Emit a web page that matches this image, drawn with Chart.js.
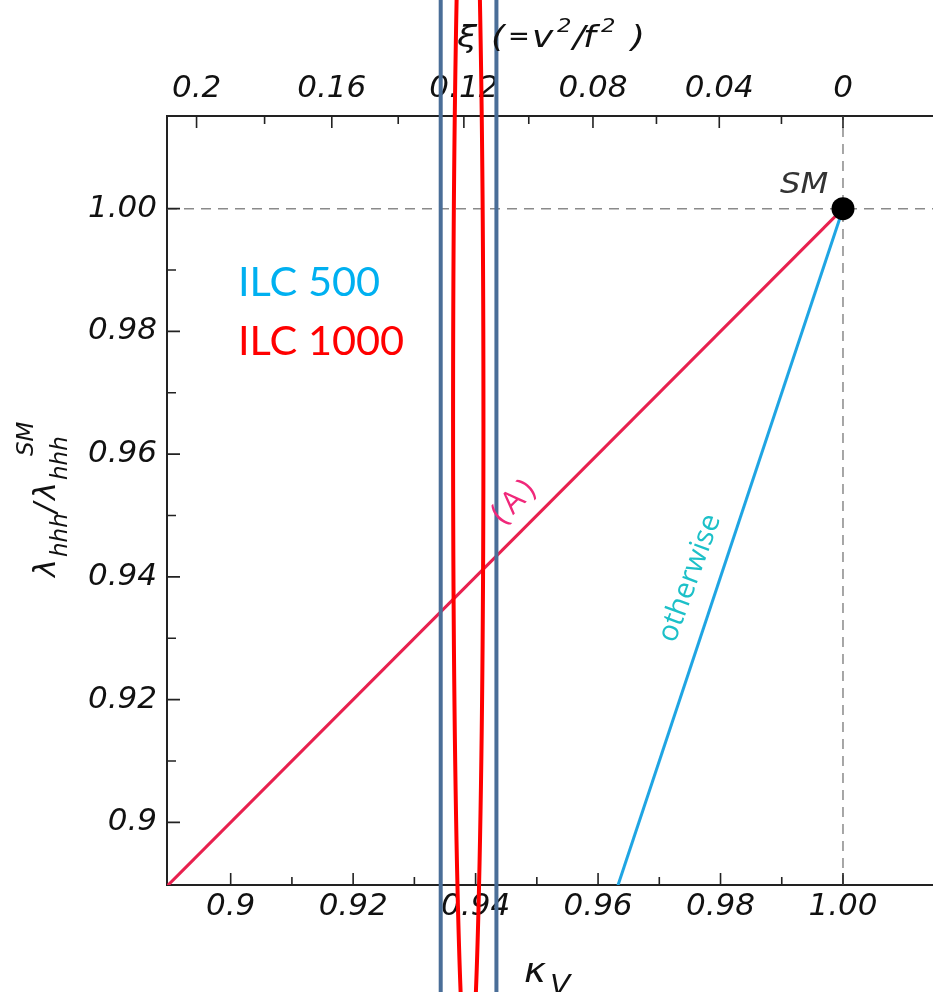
<!DOCTYPE html>
<html>
<head>
<meta charset="utf-8">
<script src="https://cdn.jsdelivr.net/npm/chart.js@4.4.1/dist/chart.umd.min.js"></script>
<style>
  html, body { margin: 0; padding: 0; background: #fff; overflow: hidden; }
  #wrap { position: relative; width: 933px; height: 992px; }
</style>
</head>
<body>
<div id="wrap"><canvas id="chart" width="933" height="992"></canvas></div>
<script>
// ---- Data ----
const kappaRange = [0.8896, 1.0147];
const lambdaRange = [0.8898, 1.0151];

const kappaTicks = [0.90, 0.91, 0.92, 0.93, 0.94, 0.95, 0.96, 0.97, 0.98, 0.99, 1.00];
const kappaLabels = ['0.9', '', '0.92', '', '0.94', '', '0.96', '', '0.98', '', '1.00'];
const lambdaTicks = [0.90, 0.91, 0.92, 0.93, 0.94, 0.95, 0.96, 0.97, 0.98, 0.99, 1.00];
const lambdaLabels = ['0.9', '', '0.92', '', '0.94', '', '0.96', '', '0.98', '', '1.00'];
const xiTicks = [0.20, 0.18, 0.16, 0.14, 0.12, 0.10, 0.08, 0.06, 0.04, 0.02, 0];
const xiLabels = ['0.2', '', '0.16', '', '0.12', '', '0.08', '', '0.04', '', '0'];

// case (A) and "otherwise" lines
const caseAKappa = [0.88, 1.00];
const caseALambda = [0.88, 1.00];
const otherKappa = [0.96, 1.00];
const otherLambda = [0.88, 1.00];
const smKappa = 1.00;
const smLambda = 1.00;

// ILC 500 band (kappa edges) and ILC 1000 ellipse
const ilc500Band = [0.9343, 0.9434];
const ilc500Span = [0.80, 1.10];
const ilc1000Center = [0.9388, 0.9651];
const ilc1000Radius = [0.00248, 0.1073];

const TXT = '#111';
const toPts = (xs, ys) => xs.map((x, i) => ({ x: x, y: ys[i] }));

// text drawn a bit wider, like the original figure's font
function wideText(ctx, s, x, y, font, sx) {
  ctx.save();
  ctx.translate(x, y);
  ctx.scale(sx, 1);
  ctx.font = font;
  ctx.fillText(s, 0, 0);
  ctx.restore();
}

// ---- plugin: inward ticks, ellipse, titles and labels ----
const decorations = {
  id: 'decorations',
  afterDatasetsDraw(chart) {
    const ctx = chart.ctx;
    const xs = chart.scales.x, ys = chart.scales.y;
    // ILC 1000 ellipse
    const cx = xs.getPixelForValue(ilc1000Center[0]);
    const cy = ys.getPixelForValue(ilc1000Center[1]);
    const rx = xs.getPixelForValue(ilc1000Center[0] + ilc1000Radius[0]) - cx;
    const ry = cy - ys.getPixelForValue(ilc1000Center[1] + ilc1000Radius[1]);
    ctx.save();
    ctx.strokeStyle = '#ff0000';
    ctx.lineWidth = 4;
    ctx.beginPath();
    ctx.ellipse(cx, cy, rx, ry, 0, 0, Math.PI * 2);
    ctx.stroke();
    ctx.restore();
  },
  afterDraw(chart) {
    const ctx = chart.ctx;
    const area = chart.chartArea;
    const xs = chart.scales.x, ys = chart.scales.y, x2 = chart.scales.x2;

    // inward tick marks
    ctx.save();
    ctx.strokeStyle = '#222';
    ctx.lineWidth = 1.6;
    ctx.beginPath();
    xs.ticks.forEach((t, i) => {
      const p = xs.getPixelForTick(i);
      const len = kappaLabels[i] ? 12 : 8;
      ctx.moveTo(p, area.bottom); ctx.lineTo(p, area.bottom - len);
    });
    x2.ticks.forEach((t, i) => {
      const p = x2.getPixelForTick(i);
      const len = xiLabels[i] ? 12 : 8;
      ctx.moveTo(p, area.top); ctx.lineTo(p, area.top + len);
    });
    ys.ticks.forEach((t, i) => {
      const p = ys.getPixelForTick(i);
      const len = lambdaLabels[i] ? 13 : 9;
      ctx.moveTo(area.left, p); ctx.lineTo(area.left + len, p);
    });
    ctx.stroke();
    ctx.restore();

    ctx.save();
    ctx.textBaseline = 'alphabetic';
    ctx.fillStyle = TXT;

    // top title: xi (=v^2/f^2)
    const big = 'italic 30px "DejaVu Sans"';
    const sup = 'italic 19px "DejaVu Sans"';
    [['\u03BE', 457, 47, big, 1.2], ['(', 491, 47, big, 1.2], ['=', 508, 45, '26px "DejaVu Sans"', 1],
     ['v', 532, 47, big, 1.2], ['2', 557, 32, sup, 1.2], ['/', 573, 47, big, 1.2],
     ['f', 583, 47, big, 1.2], ['2', 601, 32, sup, 1.2], [')', 631, 47, big, 1.2]]
      .forEach(([s, x, y, f, sx]) => wideText(ctx, s, x, y, f, sx));

    // bottom title: kappa_V
    wideText(ctx, '\u03BA', 524, 982, 'italic 34px "DejaVu Sans"', 1.1);
    wideText(ctx, 'V', 550, 994, 'italic 27px "DejaVu Sans"', 1.1);

    // left title: lambda_hhh / lambda_hhh^SM (rotated)
    ctx.save();
    ctx.translate(55, 577);
    ctx.rotate(-Math.PI / 2);
    const lam = 'italic 30px "DejaVu Sans"';
    const sub = 'italic 23px "DejaVu Sans"';
    [['\u03BB', 0, 0, lam], ['hhh', 20, 12, sub], ['/', 64, 0, lam],
     ['\u03BB', 77, 0, lam], ['hhh', 97, 12, sub], ['SM', 121, -22, sub]]
      .forEach(([s, x, y, f]) => { ctx.font = f; ctx.fillText(s, x, y); });
    ctx.restore();

    // SM label at the point
    ctx.fillStyle = '#333';
    wideText(ctx, 'SM', xs.getPixelForValue(smKappa) - 63, ys.getPixelForValue(smLambda) - 16,
             'italic 28px "DejaVu Sans"', 1.15);

    // (A) and otherwise along lines
    ctx.textAlign = 'center';
    ctx.textBaseline = 'middle';
    ctx.save();
    ctx.translate(xs.getPixelForValue(0.9465), ys.getPixelForValue(0.9525));
    ctx.rotate(-Math.PI / 4);
    ctx.fillStyle = '#f0287a';
    ctx.font = '31px "Open Sans"';
    ctx.letterSpacing = '5px';
    ctx.fillText('(A)', 0, 0);
    ctx.restore();

    ctx.save();
    ctx.translate(xs.getPixelForValue(0.9750), ys.getPixelForValue(0.9398));
    ctx.rotate(-70 * Math.PI / 180);
    ctx.fillStyle = '#1cc0c8';
    ctx.font = '29px "Open Sans"';
    ctx.fillText('otherwise', 0, 0);
    ctx.restore();

    // ILC legend text
    ctx.textAlign = 'left';
    ctx.textBaseline = 'alphabetic';
    ctx.font = '41.5px Lato';
    ctx.fillStyle = '#00b0f0';
    ctx.fillText('ILC 500', 238, 296);
    ctx.fillStyle = '#ff0000';
    ctx.fillText('ILC 1000', 238, 355);
    ctx.restore();
  }
};

const tickFont = { family: 'DejaVu Sans', size: 31, style: 'italic', lineHeight: 1 };

new Chart(document.getElementById('chart').getContext('2d'), {
  type: 'scatter',
  data: {
    // datasets listed first are drawn on top
    datasets: [
      { // ILC 500 band
        data: [
          { x: ilc500Band[0], y: ilc500Span[0] }, { x: ilc500Band[0], y: ilc500Span[1] },
          { x: ilc500Band[1], y: ilc500Span[1] }, { x: ilc500Band[1], y: ilc500Span[0] }
        ],
        showLine: true, borderColor: '#4a6e98', borderWidth: 4, pointRadius: 0, clip: false
      },
      { // SM point
        data: [{ x: smKappa, y: smLambda }],
        pointRadius: 11.5, pointBackgroundColor: '#000', pointBorderWidth: 0
      },
      { // (A)
        data: toPts(caseAKappa, caseALambda),
        showLine: true, borderColor: '#e8204e', borderWidth: 3, pointRadius: 0
      },
      { // otherwise
        data: toPts(otherKappa, otherLambda),
        showLine: true, borderColor: '#1fa5e3', borderWidth: 3, pointRadius: 0
      },
      { // dashed reference lines
        data: [{ x: kappaRange[0], y: 1 }, { x: kappaRange[1], y: 1 }],
        showLine: true, borderColor: '#8a8a8a', borderWidth: 1.5, borderDash: [10, 7], pointRadius: 0
      },
      {
        data: [{ x: 1, y: lambdaRange[0] }, { x: 1, y: lambdaRange[1] }],
        showLine: true, borderColor: '#8a8a8a', borderWidth: 1.5, borderDash: [10, 7], pointRadius: 0
      }
    ]
  },
  options: {
    responsive: false,
    animation: false,
    devicePixelRatio: 1,
    layout: { padding: 0, autoPadding: false },
    plugins: { legend: { display: false }, tooltip: { enabled: false } },
    scales: {
      x: {
        type: 'linear', position: 'bottom',
        min: kappaRange[0], max: kappaRange[1],
        afterBuildTicks: s => { s.ticks = kappaTicks.map(v => ({ value: v })); },
        afterFit: s => { s.height = 107; },
        grid: { display: false, drawTicks: false },
        border: { display: true, color: '#222', width: 2 },
        ticks: { autoSkip: false, maxRotation: 0, padding: 6, color: TXT, font: tickFont,
                 callback: (v, i) => kappaLabels[i] }
      },
      x2: {
        type: 'linear', position: 'top',
        min: kappaRange[0], max: kappaRange[1],
        afterBuildTicks: s => { s.ticks = xiTicks.map(v => ({ value: Math.sqrt(1 - v) })); },
        afterFit: s => { s.height = 116; },
        grid: { display: false, drawTicks: false },
        border: { display: true, color: '#222', width: 2 },
        ticks: { autoSkip: false, maxRotation: 0, padding: 12, color: TXT, font: tickFont,
                 callback: (v, i) => xiLabels[i] }
      },
      y: {
        type: 'linear', position: 'left',
        min: lambdaRange[0], max: lambdaRange[1],
        afterBuildTicks: s => { s.ticks = lambdaTicks.map(v => ({ value: v })); },
        afterFit: s => { s.width = 167; },
        grid: { display: false, drawTicks: false },
        border: { display: true, color: '#222', width: 2 },
        ticks: { autoSkip: false, padding: 10, color: TXT, font: tickFont,
                 callback: (v, i) => lambdaLabels[i] }
      }
    }
  },
  plugins: [decorations]
});
</script>
</body>
</html>
